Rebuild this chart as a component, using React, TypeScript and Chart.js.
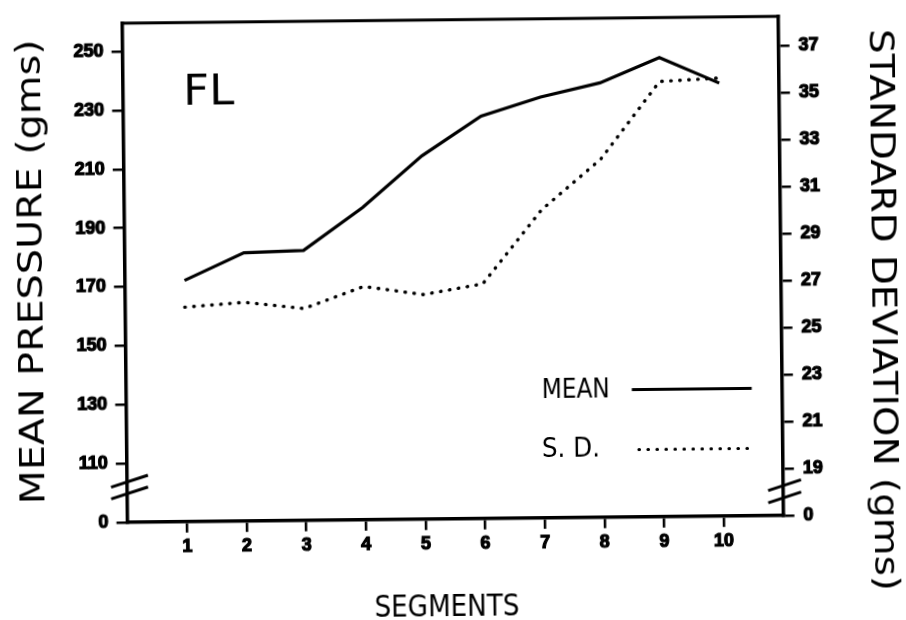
import React, { useEffect, useRef } from "react";
import { Chart, registerables } from "chart.js";

Chart.register(...registerables);

// Segment numbers along the horizontal axis
const segments = [1, 2, 3, 4, 5, 6, 7, 8, 9, 10];
// Mean pressure per segment (gms), left axis
const meanPressure = [172, 181.2, 181.8, 196.2, 213.5, 226.8, 233.1, 237.7, 246.1, 237.2];
// Standard deviation per segment (gms), right axis
const stdDeviation = [26.13, 26.31, 26.02, 26.93, 26.56, 26.99, 30.12, 32.25, 35.53, 35.65];

// Broken axes: the lowest tick stands for zero
const leftTicks = [90, 110, 130, 150, 170, 190, 210, 230, 250];
const leftTickLabels = ["0", "110", "130", "150", "170", "190", "210", "230", "250"];
const rightTicks = [17, 19, 21, 23, 25, 27, 29, 31, 33, 35, 37];
const rightTickLabels = ["0", "19", "21", "23", "25", "27", "29", "31", "33", "35", "37"];

const leftBreaks = [103.7, 99.7];
const rightBreaks = [18.27, 17.75];

const TICK_FONT = { family: "'Liberation Sans', Arial, sans-serif", size: 18, weight: "bold" as const };
const TEXT_FAMILY = "'DejaVu Sans', sans-serif";
const CAP = 0.729;

function fitText(
  ctx: CanvasRenderingContext2D,
  text: string,
  x: number,
  y: number,
  capH: number,
  targetW: number,
  rot: number,
  anchor: "left" | "center" = "center"
) {
  const size = capH / CAP;
  ctx.save();
  ctx.font = `normal ${size}px ${TEXT_FAMILY}`;
  const w = ctx.measureText(text).width;
  ctx.translate(x, y);
  ctx.rotate(rot);
  ctx.scale(targetW / w, 1);
  ctx.textAlign = anchor;
  ctx.textBaseline = "alphabetic";
  ctx.fillStyle = "#000";
  ctx.fillText(text, 0, capH / 2);
  ctx.restore();
}

const decorations = {
  id: "decorations",
  afterDraw(chart: any) {
    const { ctx, chartArea } = chart;
    const yL = chart.scales.y;
    const yR = chart.scales.y1;
    ctx.save();
    ctx.strokeStyle = "#000";
    ctx.lineCap = "butt";

    // top edge of the frame
    ctx.lineWidth = 3;
    ctx.beginPath();
    ctx.moveTo(chartArea.left - 1.5, chartArea.top);
    ctx.lineTo(chartArea.right + 1.5, chartArea.top);
    ctx.stroke();

    // axis break marks
    ctx.lineWidth = 3;
    for (const v of leftBreaks) {
      const py = yL.getPixelForValue(v);
      const px = chartArea.left;
      ctx.beginPath();
      ctx.moveTo(px - 16, py + 5.2);
      ctx.lineTo(px + 21, py - 6.5);
      ctx.stroke();
    }
    for (const v of rightBreaks) {
      const py = yR.getPixelForValue(v);
      const px = chartArea.right;
      ctx.beginPath();
      ctx.moveTo(px - 15, py + 5);
      ctx.lineTo(px + 18, py - 5.5);
      ctx.stroke();
    }

    // panel label
    fitText(ctx, "FL", 185, 85.75, 31.5, 51, 0, "left");

    // legend
    fitText(ctx, "MEAN", 540.4, 389.3, 20, 68, 0, "left");
    ctx.lineWidth = 3;
    ctx.beginPath();
    ctx.moveTo(630.5, 391.5);
    ctx.lineTo(750.4, 391.5);
    ctx.stroke();

    fitText(ctx, "S. D.", 540, 448.2, 19, 58, 0, "left");
    ctx.lineWidth = 3.2;
    ctx.lineCap = "round";
    ctx.setLineDash([0.5, 8.5]);
    ctx.beginPath();
    ctx.moveTo(637, 451.5);
    ctx.lineTo(750, 451.5);
    ctx.stroke();
    ctx.setLineDash([]);

    // axis titles
    fitText(ctx, "MEAN PRESSURE (gms)", 30, 267.5, 24, 465, -Math.PI / 2);
    fitText(ctx, "STANDARD DEVIATION (gms)", 884.3, 314.5, 24, 562, Math.PI / 2);
    fitText(ctx, "SEGMENTS", 443.4, 605, 22.5, 145, 0);

    ctx.restore();
  },
};

const tickStyle = {
  color: "#000",
  font: TICK_FONT,
  textStrokeColor: "#000",
  textStrokeWidth: 1.2,
};

export default function App() {
  const canvasRef = useRef<HTMLCanvasElement | null>(null);

  useEffect(() => {
    if (!canvasRef.current) return;
    const chart = new Chart(canvasRef.current, {
      type: "line",
      data: {
        datasets: [
          {
            label: "MEAN",
            data: segments.map((s, i) => ({ x: s, y: meanPressure[i] })),
            yAxisID: "y",
            borderColor: "#000",
            borderWidth: 3.2,
            pointRadius: 0,
            tension: 0,
            fill: false,
          },
          {
            label: "S. D.",
            data: segments.map((s, i) => ({ x: s, y: stdDeviation[i] })),
            yAxisID: "y1",
            borderColor: "#000",
            borderWidth: 3.4,
            borderDash: [0.5, 8.5],
            borderCapStyle: "round",
            pointRadius: 0,
            tension: 0,
            fill: false,
          },
        ],
      },
      options: {
        responsive: false,
        animation: false,
        devicePixelRatio: 1,
        layout: { padding: { top: 9.75, left: 0, right: 0, bottom: 0 } },
        plugins: {
          legend: { display: false },
          tooltip: { enabled: false },
        },
        scales: {
          x: {
            type: "linear",
            min: 0,
            max: 11,
            afterBuildTicks: (scale: any) => {
              scale.ticks = segments.map((v) => ({ value: v }));
            },
            afterFit: (scale: any) => {
              scale.height = 101.25;
            },
            grid: { drawOnChartArea: false, drawTicks: true, tickLength: 11, color: "#000", lineWidth: 2.5 },
            border: { display: true, color: "#000", width: 3.5 },
            ticks: {
              ...tickStyle,
              padding: 3,
              autoSkip: false,
              maxRotation: 0,
              callback: (v: any) => String(v),
            },
          },
          y: {
            type: "linear",
            position: "left",
            min: 90,
            max: 259.67,
            afterBuildTicks: (scale: any) => {
              scale.ticks = leftTicks.map((v) => ({ value: v }));
            },
            afterFit: (scale: any) => {
              scale.width = 124.75;
            },
            grid: { drawOnChartArea: false, drawTicks: true, tickLength: 11, color: "#000", lineWidth: 2.5 },
            border: { display: true, color: "#000", width: 3.5 },
            ticks: {
              ...tickStyle,
              padding: 8,
              callback: (v: any) => {
                const i = leftTicks.indexOf(Number(v));
                return i >= 0 ? leftTickLabels[i] : "";
              },
            },
          },
          y1: {
            type: "linear",
            position: "right",
            min: 17,
            max: 38.25,
            afterBuildTicks: (scale: any) => {
              scale.ticks = rightTicks.map((v) => ({ value: v }));
            },
            afterFit: (scale: any) => {
              scale.width = 125.25;
            },
            grid: { drawOnChartArea: false, drawTicks: true, tickLength: 11, color: "#000", lineWidth: 2.5 },
            border: { display: true, color: "#000", width: 3.5 },
            ticks: {
              ...tickStyle,
              padding: 9,
              callback: (v: any) => {
                const i = rightTicks.indexOf(Number(v));
                return i >= 0 ? rightTickLabels[i] : "";
              },
            },
          },
        },
      },
      plugins: [decorations],
    } as any);
    return () => chart.destroy();
  }, []);

  return (
    <div style={{ position: "fixed", left: 0, top: 0, width: 906, height: 620, background: "#fff" }}>
      <canvas
        ref={canvasRef}
        width={906}
        height={620}
        style={{ display: "block", transform: "rotate(-0.6deg)", transformOrigin: "452.75px 264.25px" }}
      />
    </div>
  );
}
